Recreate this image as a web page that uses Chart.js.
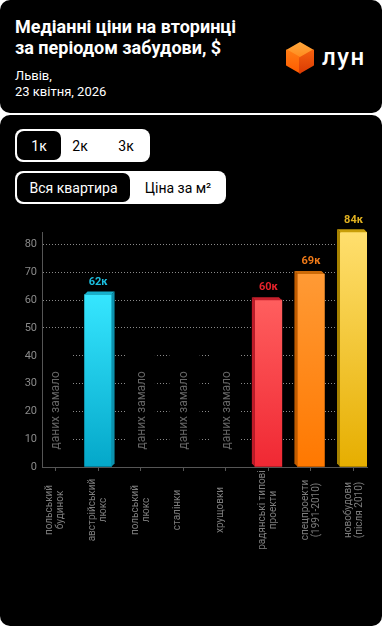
<!DOCTYPE html>
<html><head><meta charset="utf-8">
<script src="https://cdn.jsdelivr.net/npm/chart.js@4"></script>
<style>
html,body{margin:0;padding:0;background:#fff;width:382px;height:626px;overflow:hidden;font-family:Roboto,"Noto Sans",sans-serif;}
.card{position:absolute;left:0;width:382px;background:#000;border-radius:10px;}
.title{position:absolute;left:15px;top:16px;color:#fff;font-weight:700;font-size:18px;line-height:21px;margin:0;}
.sub{position:absolute;left:15px;top:67.5px;color:#fff;font-size:13px;line-height:16px;}
.seg{position:absolute;left:15px;height:33px;background:#fff;border-radius:8px;}
.sel{position:absolute;top:2px;left:2px;height:29px;background:#000;border-radius:7px;}
.opt{position:absolute;top:0;height:33px;display:flex;align-items:center;justify-content:center;font-size:14px;color:#000;}
.opt.on{color:#fff;}
#wrap{position:absolute;left:0;top:205px;width:382px;height:421px;}
</style></head><body>
<div class="card" style="top:0;height:113px;"></div>
<div class="card" style="top:115px;height:511px;"></div>
<div class="title">Медіанні ціни на вторинці<br>за періодом забудови, $</div>
<div class="sub">Львів,<br>23 квітня, 2026</div>
<svg style="position:absolute;left:0;top:0" width="382" height="113">
  <defs>
    <linearGradient id="gt" x1="0" y1="0" x2="0" y2="1"><stop offset="0" stop-color="#FFA53A"/><stop offset="1" stop-color="#FF8A1C"/></linearGradient>
    <linearGradient id="gl" x1="0" y1="0" x2="0" y2="1"><stop offset="0" stop-color="#FF7C14"/><stop offset="1" stop-color="#FF5C00"/></linearGradient>
    <linearGradient id="gr" x1="0" y1="0" x2="0" y2="1"><stop offset="0" stop-color="#F4600E"/><stop offset="1" stop-color="#DC3C04"/></linearGradient>
  </defs>
  <g stroke-width="2" stroke-linejoin="round">
    <polygon points="300,43 313,50.5 300,58 287,50.5" fill="url(#gt)" stroke="url(#gt)"/>
    <polygon points="287,50.5 300,58 300,72.5 287,65" fill="url(#gl)" stroke="url(#gl)"/>
    <polygon points="300,58 313,50.5 313,65 300,72.5" fill="url(#gr)" stroke="url(#gr)"/>
  </g>
  <text x="322" y="65" font-family="Roboto" font-weight="500" font-size="24" letter-spacing="1.5" fill="#fff">лун</text>
</svg>
<div class="seg" style="top:129px;width:135px;">
  <div class="sel" style="width:44px;"></div>
  <div class="opt on" style="left:2px;width:44px;">1к</div>
  <div class="opt" style="left:43px;width:44px;">2к</div>
  <div class="opt" style="left:89px;width:44px;">3к</div>
</div>
<div class="seg" style="top:171px;width:211px;">
  <div class="sel" style="width:113px;"></div>
  <div class="opt on" style="left:2px;width:113px;">Вся квартира</div>
  <div class="opt" style="left:115px;width:96px;">Ціна за м²</div>
</div>
<div id="wrap"><canvas id="c"></canvas></div>
<script>
const categories = [
  ['польський', 'будинок'],
  ['австрійський', 'люкс'],
  ['польський', 'люкс'],
  ['сталінки', ''],
  ['хрущовки', ''],
  ['радянські типові', 'проекти'],
  ['спецпроекти', '(1991-2010)'],
  ['новобудови', '(після 2010)']
];
const values = [null, 62, null, null, null, 60, 69.4, 84.4];
const noDataBars = [42, null, 42, 42, 42, null, null, null];
const noDataText = 'даних замало';
const yTicks = [0, 10, 20, 30, 40, 50, 60, 70, 80];
const yMax = 84.5;
const valueSuffix = 'к';

const barTop    = [null, '#36E6FF', null, null, null, '#FF5E5E', '#FF9A35', '#FFDF6E'];
const barBottom = [null, '#04A7C9', null, null, null, '#F02833', '#FF7800', '#E6AE00'];
const sideColors= [null, '#0C92AE', null, null, null, '#BE1A28', '#C05C00', '#A88300'];
const topColors = [null, '#16B0CC', null, null, null, '#C8202C', '#CC6A08', '#C89E08'];
const labelColors=[null, '#1BBFE0', null, null, null, '#E8232B', '#F07A18', '#E0B020'];
const DEPTH = 3;

function gradFn(c) {
  const i = c.dataIndex;
  const chart = c.chart;
  if (!chart.chartArea || values[i] == null) return barBottom[i] || '#000';
  const ys = chart.scales.y;
  const t = ys.getPixelForValue(values[i]);
  const b = ys.getPixelForValue(0);
  const g = chart.ctx.createLinearGradient(0, t, 0, b);
  g.addColorStop(0, barTop[i]);
  g.addColorStop(1, barBottom[i]);
  return g;
}

const face3d = {
  id: 'face3d',
  afterDatasetsDraw(chart) {
    const ctx = chart.ctx;
    const n = categories.length;
    [1, 0].forEach(di => {
      const src = di === 0 ? values : noDataBars;
      const meta = chart.getDatasetMeta(di);
      meta.data.forEach((el, i) => {
        if (src[i] == null) return;
        const p = el.getProps(['x', 'y', 'base', 'width'], true);
        const l = p.x - p.width / 2, r = p.x + p.width / 2;
        const dir = i < (n - 1) / 2 ? 1 : -1;
        const d = DEPTH;
        ctx.save();
        ctx.fillStyle = di === 0 ? sideColors[i] : '#000';
        ctx.beginPath();
        if (dir > 0) { ctx.moveTo(r, p.y); ctx.lineTo(r + d, p.y - d); ctx.lineTo(r + d, p.base - d); ctx.lineTo(r, p.base); }
        else { ctx.moveTo(l, p.y); ctx.lineTo(l - d, p.y - d); ctx.lineTo(l - d, p.base - d); ctx.lineTo(l, p.base); }
        ctx.closePath(); ctx.fill();
        ctx.fillStyle = di === 0 ? topColors[i] : '#000';
        ctx.beginPath();
        ctx.moveTo(l, p.y); ctx.lineTo(l + dir * d, p.y - d); ctx.lineTo(r + dir * d, p.y - d); ctx.lineTo(r, p.y);
        ctx.closePath(); ctx.fill();
        if (di === 0) {
          ctx.fillStyle = labelColors[i];
          ctx.font = 'bold 11px Roboto';
          ctx.textAlign = 'center';
          ctx.textBaseline = 'bottom';
          ctx.fillText(Math.round(values[i]) + valueSuffix, p.x, p.y - d - 4);
        } else {
          ctx.translate(p.x, p.base - 17);
          ctx.rotate(-Math.PI / 2);
          ctx.fillStyle = '#666';
          ctx.font = '12px Roboto';
          ctx.textAlign = 'left';
          ctx.textBaseline = 'middle';
          ctx.fillText(noDataText, 0, 1);
        }
        ctx.restore();
      });
    });
  },
  afterDraw(chart) {
    const ctx = chart.ctx;
    const xs = chart.scales.x;
    const lh = 11;
    categories.forEach((lines, i) => {
      const x = xs.getPixelForValue(i);
      lines.forEach((t, j) => {
        if (!t) return;
        ctx.save();
        ctx.translate(x + (j - (lines.length - 1) / 2) * lh, 305);
        ctx.rotate(-Math.PI / 2);
        ctx.fillStyle = '#7d7d7d';
        ctx.font = '10px Roboto';
        ctx.textAlign = 'center';
        ctx.textBaseline = 'middle';
        ctx.fillText(t, 0, 0);
        ctx.restore();
      });
    });
  }
};

new Chart(document.getElementById('c'), {
  type: 'bar',
  data: {
    datasets: [
      { data: values.map((v, i) => ({ x: i, y: v })), backgroundColor: gradFn, barThickness: 27, grouped: false, borderWidth: 0 },
      { data: noDataBars.map((v, i) => ({ x: i, y: v })), backgroundColor: '#000', barThickness: 27, grouped: false, borderWidth: 0 }
    ]
  },
  options: {
    responsive: true,
    maintainAspectRatio: false,
    animation: false,
    layout: { padding: { top: 27, right: 15, left: 0, bottom: 0 } },
    plugins: { legend: { display: false }, tooltip: { enabled: false } },
    scales: {
      x: {
        type: 'linear', min: -0.317, max: 7.317, offset: false,
        afterBuildTicks: s => { s.ticks = categories.map((_, i) => ({ value: i })); },
        afterFit: s => { s.height = 159; },
        ticks: { display: false },
        grid: { display: true, offset: false, drawOnChartArea: false, drawTicks: true, tickLength: 4, tickColor: '#555', color: '#555' },
        border: { display: true, color: '#555', width: 1, z: 1 }
      },
      y: {
        min: 0, max: yMax,
        afterBuildTicks: s => { s.ticks = yTicks.map(v => ({ value: v })); },
        afterFit: s => { s.width = 42; },
        ticks: { color: '#8a8a8a', font: { family: 'Roboto', size: 11 }, padding: 5 },
        grid: { color: '#8a8a8a', lineWidth: 1, drawTicks: false },
        border: { display: true, color: '#555', width: 1, dash: [1, 2], z: 1 }
      }
    }
  },
  plugins: [face3d]
});
</script>
</body></html>
